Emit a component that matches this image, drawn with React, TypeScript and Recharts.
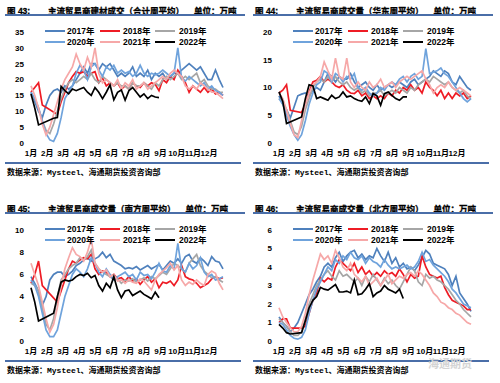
import { LineChart, Line, XAxis, YAxis } from 'recharts';

const YEARS = ['2017年', '2018年', '2019年', '2020年', '2021年', '2022年'];
const COLORS = ['#4f81bd', '#ee1c25', '#a6a6a6', '#6fa3dc', '#f6a8a8', '#000000'];
const MONTHS = ['1月', '2月', '3月', '4月', '5月', '6月', '7月', '8月', '9月', '10月', '11月', '12月'];
const WEEKS = 52;

type Series = (number | null)[];

// 合计周平均
const TOTAL_2017: Series = [
  16, 13, 10, 8, 12, 15, 16.5, 17, 16, 18, 17, 18, 20,
  22, 24, 22, 25, 25, 23, 25, 24, 25, 23, 21, 22, 21,
  22, 24, 21, 22, 21, 23, 20, 22, 21, 22, 20, 21, 22,
  22, 23, 24, 25, 24, 23, 24, 22, 20, 20, 23, 20, 17.5,
];
const TOTAL_2018: Series = [
  16, 17.5, 19, 12, null, null, null, 9, 13, 16, 19, 21, 22.5,
  22, 22.5, 21, 22, 22.5, 19, 20.5, 18, 19, 18, 19, 17, 18,
  17, 19, 18, 17.5, 19, 18, 19, 18.5, 16.5, 20, 19, 21, 20,
  23, 21, 19, 16, 18, 17, 16, 17.5, 16, 17, 15.5, 16, 15,
];
const TOTAL_2019: Series = [
  15, 14, 11, 7, 4, 3, 6, 10, 14, 17, 19, 20, 19,
  20, 21, 20, 22, 20, 19, 21, 20, 19, 18, 19, 18, 18,
  17, 19, 18, 18, 19, 18, 17, 19, 18, 20, 21, 20, 21,
  22, 20, 21, 20, 21, 22, 19, 20, 18, 17, 17, 16, 16,
];
const TOTAL_2020: Series = [
  16, 14, 11, 7, 3, 1, 0.5, 3, 8, 14, 16, 18, 22,
  24.5, 23, 20, 24, 25, 23, 21, 24, 23, 24.5, 22, 23, 22,
  22.5, 21, 22, 24.5, 22, 21, 22, 21.5, 22, 23, 22, 21, 22,
  30, 20.5, 19.5, 21, 20, 19, 18, 19, 17, 18, 16.5, 16, 15,
];
const TOTAL_2021: Series = [
  18, 15, 11, 6, 2.5, 5, 9, 13, 17, 20, 22, 24, 28,
  25, 23, 27, 24, 30, 22, 19, 20, 19, 18, 20, 17, 19,
  18, 20, 17, 18, 19, 17, 18, 19, 20, 21, 20, 22, 23,
  22, 21, 18, 17, 18, 17, 19, 18, 17, 16, 16, 15, 14,
];
const TOTAL_2022: Series = [
  15.5, 11, 5.7, null, null, null, 7.8, 8, 17.8, 16.5, 15.5, 17, 16.5,
  17, 17.5, 16, 15, 17.5, 16, 14, 16, 18.3, 13.6, 16, 16.7, 13.5,
  16.5, 17.5, 16, 14.5, 15.5, 14, 15, 14.5, 14.3,
];

// 华东周平均
const EAST_2017: Series = [
  8.5, 7, 6, 4.5, 6.5, 8.5, 8.8, 9, 8.5, 9.5, 10, 9.5, 11,
  12.5, 12, 11, 12, 11.5, 11.5, 12.5, 11, 10, 10.5, 11, 10, 9.5,
  10.5, 9.5, 10, 10.5, 10, 10.5, 11, 10.5, 10, 11, 11.5, 10.5, 11,
  11.5, 12, 13, 12.5, 12, 13, 12.5, 11, 10.5, 12, 11, 10, 9.5,
];
const EAST_2018: Series = [
  9, 9.5, 10.5, 5.9, null, null, 5.5, 7, 9.2, 11, 11.3, 12, 11,
  11.5, 11, 10.3, 10, 10.5, 9.5, 9, 8.9, 9.5, 8.5, 9, 8, 8.5,
  8, 8.5, 8, 9, 8.5, 9.5, 9, 10, 9.5, 10.5, 9.5, 10, 9,
  11, 10, 9.5, 8.5, 9.5, 8, 9, 8, 9, 8.5, 9, 8, 8.5,
];
const EAST_2019: Series = [
  8, 7.5, 6, 4, 2, 1.5, 3, 6, 8, 10, 11, 11.5, 11,
  12, 11, 12, 11, 10.5, 11, 10, 9.5, 10, 9, 9.5, 8.5, 9,
  9, 9.5, 8.5, 9, 9.5, 9, 10, 9.5, 9, 10, 9.5, 10.5, 11,
  11.5, 11, 12, 11.5, 11, 10.5, 11, 10, 9.5, 9, 9.5, 8.5, 8,
];
const EAST_2020: Series = [
  8, 7, 5, 3, 1.5, 0.5, 1.5, 4, 7, 9, 10.5, 11, 13,
  12.5, 11, 12.5, 12, 11, 12, 11.5, 12.5, 10, 9.5, 10, 9, 8.5,
  9, 10, 9.5, 10.5, 11, 10.5, 11.5, 12, 11, 12, 12.5, 11.5, 12,
  17, 12.5, 12.8, 13, 13.5, 12.5, 12, 11, 10, 9, 8, 7.4, 8,
];
const EAST_2021: Series = [
  9, 8, 6, 3.5, 1.5, 1, 4, 7, 9, 10.5, 11, 12, 14.6,
  13, 11.5, 15.3, 12, 11.5, 15.3, 11, 10, 11, 10, 9.5, 11, 10,
  10.5, 11.5, 10, 10.5, 11, 10, 11, 11.5, 12, 11.5, 12, 12.5, 13,
  11.5, 10.5, 9, 10, 10.5, 10, 11, 10, 9.5, 10, 9.5, 9, 8.5,
];
const EAST_2022: Series = [
  9.2, 7.5, 3.5, null, null, null, 4.7, 8, 10.5, 10.3, 8, 8.3, 8,
  7.7, 8.6, 8, 8.3, 9.2, 8.3, 8.5, 8, 7.7, 7.5, 8.3, 7.1, 8.9,
  8.5, 6.8, 8.9, 9.2, 8.6, 8, 7.7, 8.3, 8.3,
];

// 南方周平均
const SOUTH_2017: Series = [
  5.8, 5.2, 4.5, 3.2, 4, 5.5, 6, 6.2, 6.2, 5.8, 6, 6.3, 6.8,
  7, 7.3, 7.5, 7.2, 7.4, 7.6, 8, 7.5, 7.8, 7.2, 7, 6.8, 6.5,
  6.6, 6.5, 6.7, 6.4, 6.6, 6.8, 6.5, 6.7, 6.9, 6.4, 6.8, 7.2, 7,
  7.4, 7, 7.6, 7.8, 7.2, 7, 7.5, 7.2, 6.8, 7.6, 7.2, 7.1, 6.5,
];
const SOUTH_2018: Series = [
  5.2, 6, 7.2, 5, null, null, null, 3.5, 4.5, 5.5, 6.5, 7.2, 7,
  7.3, 7.5, 7.4, 7.8, 6.5, 6, 6.3, 6.2, 5.8, 6, 5.6, 5.7, 5.4,
  5.8, 5.4, 5.6, 5.1, 5.5, 5.8, 5.3, 5.6, 4.8, 5.3, 5.2, 5.4, 5,
  5.5, 6.8, 5.8, 5.6, 5.5, 5.2, 4.8, 5, 5.2, 5.6, 5.8, 5.6, 5.7,
];
const SOUTH_2019: Series = [
  5.2, 5, 4.5, 3, 1.5, 1, 2, 4, 5.5, 6, 6.5, 6.8, 7,
  7.5, 7.3, 7.6, 8.2, 7, 6.5, 6.2, 6, 5.8, 5.5, 5.6, 5.2, 5.5,
  5.4, 5.6, 5.3, 5.5, 5.7, 5.4, 5.8, 5.6, 5.9, 6.2, 6, 6.5, 7,
  6.8, 6.5, 6.2, 7, 7.4, 7.8, 6.8, 6.3, 6, 5.7, 5.8, 5.5, 5.3,
];
const SOUTH_2020: Series = [
  5.5, 5, 4, 2.5, 1, 0.4, 0.4, 1, 2.5, 4, 5, 6, 6.5,
  6.2, 5.8, 6.5, 7.5, 7, 6.2, 5.8, 6.5, 6, 5.5, 5.8, 6, 6.2,
  5.8, 6, 5.5, 6.2, 5.9, 6, 5.6, 6.2, 7, 6.3, 6.2, 6.8, 6.5,
  8.8, 6.5, 6.2, 7, 6.5, 6.8, 7.5, 6.2, 5.8, 6, 5.5, 5.6, 5.8,
];
const SOUTH_2021: Series = [
  7, 6, 5, 3.5, 2, 0.8, 1.5, 3, 5, 6.5, 7.5, 8.4, 7.8,
  7.6, 7.2, 8, 9.2, 7, 6.5, 6.2, 6.4, 5.8, 6, 5.4, 5.5, 5.2,
  5.5, 5.3, 5.2, 5.6, 5.4, 5, 4.6, 5.5, 6, 6.3, 6.6, 7, 6.4,
  6.8, 5.5, 5, 5.3, 5.1, 5.5, 5.2, 5, 6, 6.3, 6.1, 5.2, 4.6,
];
const SOUTH_2022: Series = [
  4.8, 3.5, 1.8, null, null, null, 2.5, 4, 5.3, 5.5, 5.4, 5.5, 5.8,
  6, 5.9, 6.1, 5.7, 5.9, 5, 4.5, 5.2, 4.8, 5.8, 4.6, 3.9, 4.5,
  4.6, 4.1, 4.3, 4.5, 4.2, 4, 3.8, 4.4, 3.9,
];

// 北方周平均
const NORTH_2017: Series = [
  1.3, 1, 0.8, 0.5, 0.7, 1, 1.5, 2, 2.5, 2.8, 3.2, 3.5, 4,
  4.2, 4, 4.5, 4.8, 4.3, 4.6, 4.8, 4.9, 4.5, 4.7, 4.4, 4.6, 4.5,
  5, 4.6, 4.3, 4.8, 4.2, 4.5, 4, 4.2, 3.9, 4, 3.8, 4.1, 4.5,
  4.9, 4.7, 4.2, 4.1, 4, 3.9, 3.6, 3, 3.5, 2.6, 2.3, 2, 1.6,
];
const NORTH_2018: Series = [
  1, 1.2, 1.2, 0.7, null, null, 0.7, 0.8, 1.5, 2.2, 2.6, 3.4, 3.2,
  3.4, 3.3, 4, 4.4, 4.2, 4, 3.8, 4.2, 3.7, 4, 3.6, 3.8, 3.5,
  3.7, 3.5, 3.8, 3.6, 3.7, 3.5, 3.9, 3.6, 3.2, 3.6, 3.4, 3.5, 4.6,
  4, 3.6, 3.5, 3.4, 3.5, 2.9, 2.5, 2.2, 2.1, 2, 1.9, 1.7, 1.7,
];
const NORTH_2019: Series = [
  1.2, 1, 0.8, 0.5, 0.3, 0.3, 0.5, 1.2, 2, 2.5, 3, 3.3, 3.6,
  3.8, 3.5, 3.3, 3.8, 3.5, 3.6, 3.4, 3.2, 3.4, 3, 3.5, 3.2, 3.6,
  3.3, 3, 3.4, 3.1, 3.3, 3, 2.8, 3.2, 3.6, 4, 3.8, 3.2, 3,
  3.6, 3.4, 3.5, 3.3, 3.2, 3, 2.8, 2.5, 2.2, 2, 1.7, 1.5, 1.3,
];
const NORTH_2020: Series = [
  1, 0.9, 0.6, 0.3, 0.15, 0.1, 0.2, 0.6, 1.5, 2.2, 2.8, 3.2, 3.6,
  4, 3.8, 4.4, 4.2, 4.6, 4.4, 4.8, 4.5, 4.4, 4.6, 4.2, 4.5, 4.3,
  4.2, 4, 4.4, 4.1, 3.9, 4, 3.9, 4, 4.1, 3.9, 4, 4.3, 4.8,
  4.3, 4.4, 4.1, 3.9, 3.7, 3.5, 3.2, 2.8, 2.6, 2.3, 2, 1.9, 1.8,
];
const NORTH_2021: Series = [
  1.8, 1.3, 1, 0.7, 0.5, 0.5, 0.8, 1.5, 2.5, 3.3, 4, 4.7, 4.4,
  4.6, 4.2, 4.9, 4.5, 4, 3.8, 4.2, 3.6, 3.4, 3.2, 3.5, 3, 3.2,
  3.4, 3, 3.3, 3.6, 3.1, 3.3, 3.5, 3.4, 3.6, 3.7, 3.5, 3.8, 3.6,
  3.3, 3, 2.6, 2.4, 2.1, 2, 1.8, 1.7, 1.5, 1.4, 1.2, 1, 0.9,
];
const NORTH_2022: Series = [
  0.9, 0.7, 0.45, 0.38, null, null, 0.45, 1.1, 1.8, 2.2, 2.4, 2.9, 2.8,
  2.75, 2.9, 3.05, 2.65, 2.65, 2.7, 2.6, 3.3, 2.5, 2.55, 2.8, 3.1, 2.4,
  2.6, 2.7, 3, 2.8, 2.7, 2.6, 2.8, 2.3,
];

const MONTH_STEP = 4.3;
const MONTH_TICKS = MONTHS.map((_, i) => 1 + i * MONTH_STEP);

const BAR = '#4a6ea8';
const LATIN = "'Liberation Sans', 'Noto Sans CJK SC', sans-serif";
const CJK = "'Noto Sans CJK SC', sans-serif";
const TICK = { fontSize: 8, fontWeight: 'bold', fill: '#000', fontFamily: LATIN };

function buildRows(series: Series[]) {
  return Array.from({ length: WEEKS }, (_, i) => {
    const row: Record<string, number | null> = { w: i + 1 };
    series.forEach((s, k) => {
      row[YEARS[k]] = i < s.length ? s[i] : null;
    });
    return row;
  });
}

function YearLegend() {
  return (
    <>
      {YEARS.map((y, i) => (
        <div
          key={y}
          style={{
            position: 'absolute',
            left: 45 + (i % 3) * 55,
            top: 26 + Math.floor(i / 3) * 11,
            height: 10,
            display: 'flex',
            alignItems: 'center',
            whiteSpace: 'nowrap',
          }}
        >
          <span style={{ width: 20, borderTop: `2px solid ${COLORS[i]}`, marginRight: 2 + (i % 3) }} />
          <span style={{ fontSize: 8.5, fontWeight: 'bold', fontFamily: LATIN, lineHeight: '10px' }}>{y}</span>
        </div>
      ))}
    </>
  );
}

interface PanelProps {
  left: number;
  top: number;
  fig: string;
  title: string;
  series: Series[];
  yMax: number;
  yTicks: number[];
}

function Panel({ left, top, fig, title, series, yMax, yTicks }: PanelProps) {
  const rows = buildRows(series);
  return (
    <div style={{ position: 'absolute', left, top, width: 250, height: 185 }}>
      <div style={{ position: 'absolute', left: 0, top: 0 }}>
        <LineChart width={250} height={165} data={rows} margin={{ top: 32, right: 27, bottom: 7, left: 0 }}>
          <XAxis
            dataKey="w"
            type="number"
            domain={[1, WEEKS]}
            ticks={MONTH_TICKS}
            interval={0}
            tickFormatter={(v: number) => MONTHS[Math.round((v - 1) / MONTH_STEP)]}
            axisLine={false}
            tickLine={false}
            tickSize={5}
            tickMargin={2}
            height={15}
            tick={TICK}
          />
          <YAxis
            type="number"
            domain={[0, yMax]}
            ticks={yTicks}
            interval={0}
            axisLine={false}
            tickLine={false}
            tickSize={5}
            tickMargin={2}
            width={31}
            tick={TICK}
          />
          {YEARS.map((y, k) => (
            <Line
              key={y}
              type="linear"
              dataKey={y}
              stroke={COLORS[k]}
              strokeWidth={1.7}
              dot={false}
              connectNulls
              isAnimationActive={false}
            />
          ))}
        </LineChart>
      </div>
      <div
        style={{
          position: 'absolute',
          left: 7,
          top: 4,
          fontSize: 8.5,
          lineHeight: '12px',
          fontWeight: 'bold',
          fontFamily: CJK,
          whiteSpace: 'nowrap',
          WebkitTextStroke: '0.3px #000',
        }}
      >
        <span style={{ fontFamily: LATIN }}>图 {fig}:</span>
        <span style={{ position: 'absolute', left: 41 }}>
          {title}
          <span style={{ marginLeft: 10 }}>单位：万吨</span>
        </span>
      </div>
      <div style={{ position: 'absolute', left: 5, top: 14, width: 240, height: 2, background: BAR }} />
      <YearLegend />
      <div style={{ position: 'absolute', left: 5, top: 162, width: 236, height: 2, background: BAR }} />
      <div
        style={{
          position: 'absolute',
          left: 7,
          top: 167,
          fontSize: 8,
          lineHeight: '11px',
          fontWeight: 'bold',
          fontFamily: "'Liberation Mono', 'Noto Sans CJK SC', monospace",
          whiteSpace: 'nowrap',
        }}
      >
        数据来源：Mysteel、海通期货投资咨询部
      </div>
    </div>
  );
}

export default function App() {
  return (
    <div
      style={{
        position: 'absolute',
        left: 0,
        top: 0,
        width: 500,
        height: 383,
        background: '#fff',
        overflow: 'hidden',
        color: '#000',
      }}
    >
      <Panel
        left={0}
        top={0}
        fig="43"
        title="主流贸易商建材成交（合计周平均）"
        series={[TOTAL_2017, TOTAL_2018, TOTAL_2019, TOTAL_2020, TOTAL_2021, TOTAL_2022]}
        yMax={35}
        yTicks={[0, 5, 10, 15, 20, 25, 30, 35]}
      />
      <Panel
        left={248}
        top={0}
        fig="44"
        title="主流贸易商成交量（华东周平均）"
        series={[EAST_2017, EAST_2018, EAST_2019, EAST_2020, EAST_2021, EAST_2022]}
        yMax={20}
        yTicks={[0, 5, 10, 15, 20]}
      />
      <Panel
        left={0}
        top={198}
        fig="45"
        title="主流贸易商成交量（南方周平均）"
        series={[SOUTH_2017, SOUTH_2018, SOUTH_2019, SOUTH_2020, SOUTH_2021, SOUTH_2022]}
        yMax={10}
        yTicks={[0, 2, 4, 6, 8, 10]}
      />
      <Panel
        left={248}
        top={198}
        fig="46"
        title="主流贸易商成交量（北方周平均）"
        series={[NORTH_2017, NORTH_2018, NORTH_2019, NORTH_2020, NORTH_2021, NORTH_2022]}
        yMax={6}
        yTicks={[0, 1, 2, 3, 4, 5, 6]}
      />
      <div
        style={{
          position: 'absolute',
          left: 428,
          top: 357,
          fontSize: 11,
          lineHeight: '13px',
          fontWeight: 'bold',
          fontFamily: CJK,
          color: '#d4d4d4',
          whiteSpace: 'nowrap',
        }}
      >
        海通期货
      </div>
    </div>
  );
}
